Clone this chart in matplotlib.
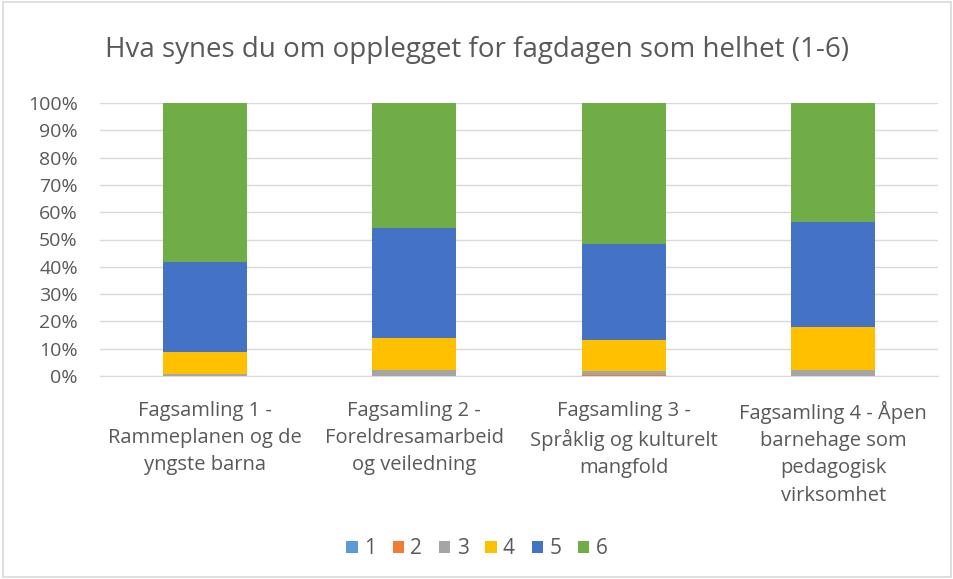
import matplotlib
matplotlib.use("Agg")
import matplotlib.pyplot as plt
import numpy as np
from matplotlib.patches import Rectangle

categories = ["Fagsamling 1 -\nRammeplanen og de\nyngste barna",
              "Fagsamling 2 -\nForeldresamarbeid\nog veiledning",
              "Fagsamling 3 -\nSpråklig og kulturelt\nmangfold",
              "Fagsamling 4 - Åpen\nbarnehage som\npedagogisk\nvirksomhet"]
series_names = ["1", "2", "3", "4", "5", "6"]
s1 = [0.0, 0.0, 0.0, 0.0]
s2 = [0.0, 0.0, 0.2, 0.0]
s3 = [0.8, 2.2, 1.7, 2.3]
s4 = [7.9, 11.6, 11.4, 15.6]
s5 = [33.1, 40.4, 35.1, 38.5]
s6 = [58.2, 45.8, 51.6, 43.6]
colors = ["#5B9BD5", "#ED7D31", "#A5A5A5", "#FFC000", "#4472C4", "#70AD47"]

plt.rcParams['font.family'] = ['Open Sans', 'DejaVu Sans']
fig = plt.figure(figsize=(9.54, 5.79), dpi=100)
fig.patches.append(Rectangle((0.003, 0.003), 0.994, 0.994, transform=fig.transFigure,
                             fill=False, edgecolor="#D9D9D9", linewidth=1.2))
ax = fig.add_axes([100/954, 1-376/579, 838/954, 273/579])
x = np.arange(len(categories))
bottom = np.zeros(len(categories))
data = [s1, s2, s3, s4, s5, s6]
for name, vals, c in zip(series_names, data, colors):
    v = np.array(vals)
    ax.bar(x, v, 0.4, bottom=bottom, color=c, label=name, zorder=3)
    bottom += v
ax.set_ylim(0, 100)
ax.set_xlim(-0.5, 3.5)
ax.set_yticks(np.arange(0, 101, 10))
ax.set_yticklabels([f"{t}%" for t in range(0, 101, 10)], color="#595959", fontsize=14)
ax.set_xticks(x)
ax.set_xticklabels(categories, color="#595959", fontsize=14.5, linespacing=1.48)
ax.tick_params(axis='y', length=0, pad=16)
ax.tick_params(axis='x', length=0, pad=18)
ax.grid(axis='y', color="#D9D9D9", linewidth=1, zorder=0)
for s in ["top", "right", "left"]:
    ax.spines[s].set_visible(False)
ax.spines["bottom"].set_color("#D9D9D9")
fig.text(0.5, 1-50/579, "Hva synes du om opplegget for fagdagen som helhet (1-6)",
         ha="center", va="center", fontsize=20, color="#595959")
leg = fig.legend(*ax.get_legend_handles_labels(), loc="center", bbox_to_anchor=(0.5, 1-549/579),
                 ncol=6, frameon=False, fontsize=15, handlelength=0.55, handleheight=0.55,
                 columnspacing=0.8, handletextpad=0.3)
for t in leg.get_texts():
    t.set_color("#595959")
fig.savefig("out.png", dpi=100)
